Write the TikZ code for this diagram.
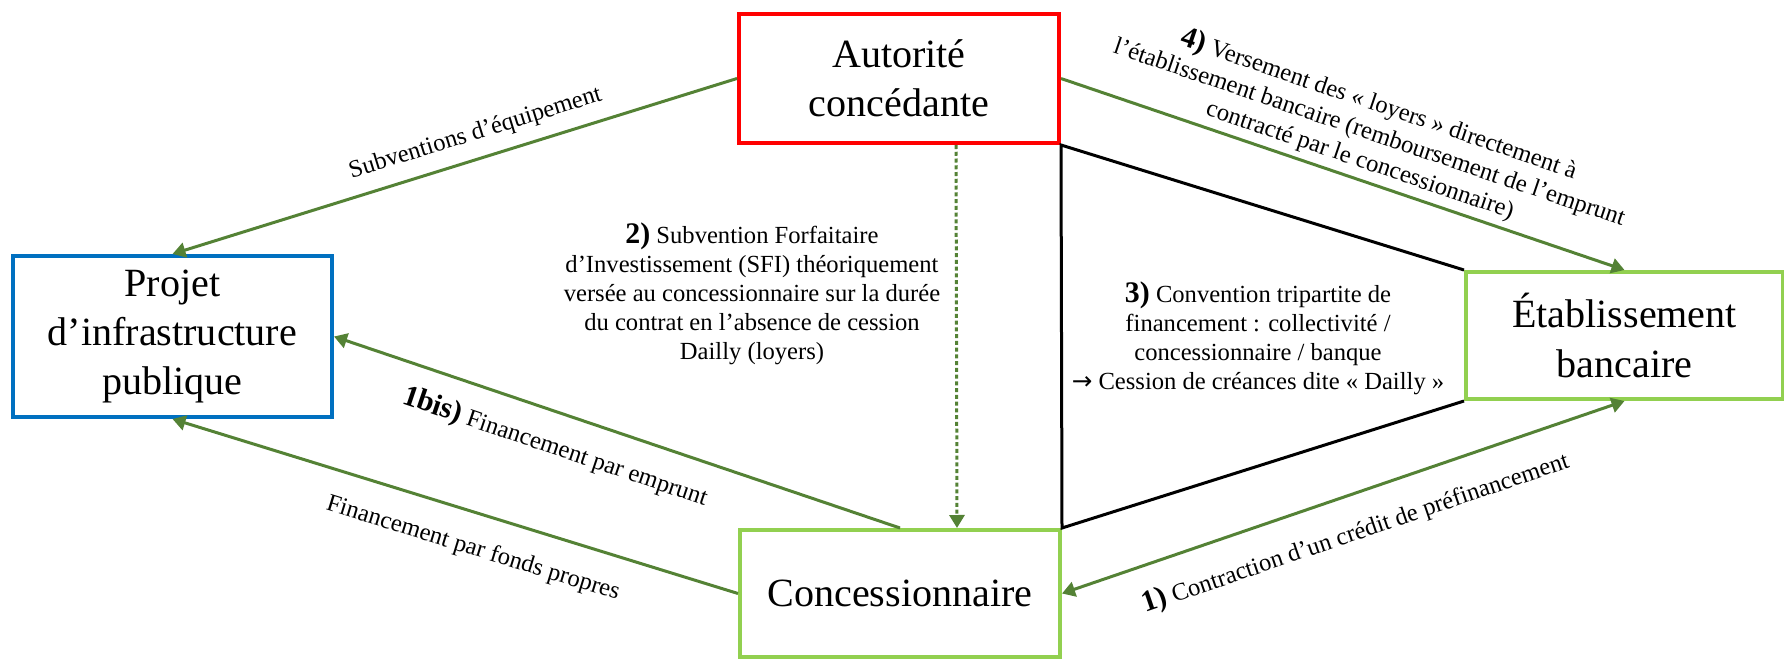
\documentclass[tikz,border=0pt]{standalone}
\usepackage{fontspec}
\setmainfont{Liberation Serif}
\newfontfamily\arrowfont{DejaVu Sans}
\usetikzlibrary{arrows.meta}
\definecolor{flowgreen}{HTML}{548235}
\definecolor{boxgreen}{HTML}{92D050}
\definecolor{boxblue}{HTML}{0070C0}
\newcommand{\stepnum}[1]{{\fontsize{17}{17}\selectfont\bfseries #1)}}
\tikzset{
  >={Triangle[length=2.6mm, width=3mm]},
  actor/.style = {rectangle, draw, line width=0.8mm, fill=white, inner sep=0pt, align=center, font=\fontsize{22.8}{27.9}\selectfont},
  authority/.style = {actor, draw=red, minimum width=64mm, minimum height=25.8mm},
  project/.style = {actor, draw=boxblue, minimum width=63.8mm, minimum height=32.2mm},
  partner/.style = {actor, draw=boxgreen, minimum width=64mm, minimum height=25.4mm},
  flow/.style = {->, draw=flowgreen, line width=0.6mm},
  pact/.style = {draw=black, line width=0.6mm, line join=miter},
  note/.style = {font=\fontsize{14}{16.5}\selectfont, align=center, inner sep=1pt, text=black}
}

\begin{document}
\begin{tikzpicture}[x=0.2mm, y=-0.2mm]
\useasboundingbox (0,0) rectangle (1784,659);
% ACTORS
\node[authority] (Autorite) at (899,78.5) {Autorité\\concédante};
\node[project] (Projet) at (172.5,336.5) {Projet\\d’infrastructure\\publique};
\node[partner, minimum width=63.4mm] (Etab) at (1624.5,335.5) {Établissement\\bancaire};
\node[partner] (Concess) at (900,593.5) {Concessionnaire};
% TRIPARTITE AGREEMENT
\draw[pact] (Etab.north west) -- (Autorite.south east) -- (Concess.north east) -- (Etab.south west);
\node[note] (Note-Dailly) at (1258,338) {\stepnum{3} Convention tripartite de\\financement : collectivité /\\concessionnaire / banque\\{\arrowfont →} Cession de créances dite «~Dailly~»};
% FLOWS
\draw[flow] (Autorite.west) -- node[note, sloped, pos=0.45, above=6pt] {Subventions d’équipement} (Projet.north);
\draw[flow] (Autorite.east) -- node[note, sloped, pos=0.52, above=2pt] {\stepnum{4} Versement des «~loyers~» directement à\\l’établissement bancaire (remboursement de l’emprunt\\contracté par le concessionnaire)} (Etab.north);
\draw[flow, dash pattern=on 0.8mm off 0.55mm] ([xshift=11.4mm]Autorite.south) -- ([xshift=11.4mm]Concess.north);
\node[note] (Note-SFI) at (752,294) {\stepnum{2} Subvention Forfaitaire\\d’Investissement (SFI) théoriquement\\versée au concessionnaire sur la durée\\du contrat en l’absence de cession\\Dailly (loyers)};
\draw[flow] (Concess.north) -- node[note, sloped, pos=0.59, below=10pt] {\stepnum{1bis} Financement par emprunt} (Projet.east);
\draw[flow] (Concess.west) -- node[note, sloped, pos=0.45, below=12pt] {Financement par fonds propres} (Projet.south);
\draw[flow, <->] (Concess.east) -- node[note, sloped, pos=0.5, below=12pt] {\stepnum{1} Contraction d’un crédit de préfinancement} (Etab.south);
\end{tikzpicture}
\end{document}
